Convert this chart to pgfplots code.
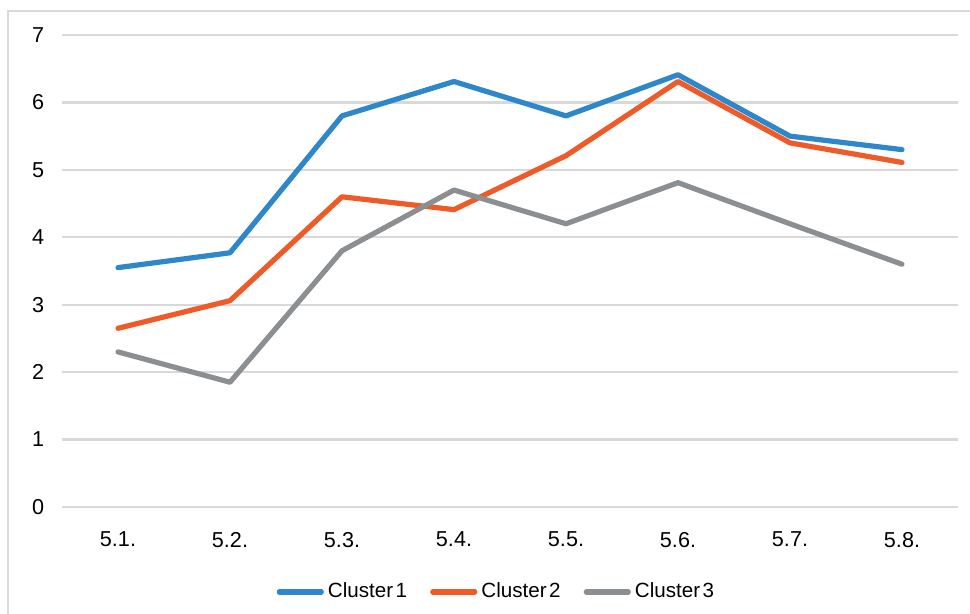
\documentclass[border=0pt]{standalone}
\usepackage{pgfplots}
\pgfplotsset{compat=1.18}
\usepackage{fontspec}
\setmainfont{Liberation Sans}

\definecolor{cOne}{HTML}{2E86CB}
\definecolor{cTwo}{HTML}{EE5A28}
\definecolor{cThree}{HTML}{8C8F92}
\definecolor{gridc}{HTML}{D9D9D9}

\newcommand{\lbl}{\fontsize{10.8}{13}\selectfont}
\newcommand{\leg}{\fontsize{10.3}{12}\selectfont}

\begin{document}
\begin{tikzpicture}[x=0.5pt,y=0.5pt]
% page: 970 x 614 units, origin bottom-left
\useasboundingbox (0,0) rectangle (970,614);
% chart frame (left and top edges)
\draw[gridc, line width=1pt] (8,0) -- (8,603) -- (975,603);
\begin{axis}[
  at={(31pt,53.5pt)}, anchor=south west,
  scale only axis, width=448pt, height=236pt,
  xmin=-0.5, xmax=7.5, ymin=0, ymax=7,
  xtick={0,...,7},
  xticklabels={5.1.,5.2.,5.3.,5.4.,5.5.,5.6.,5.7.,5.8.},
  ytick={0,...,7},
  axis line style={draw=none},
  major tick length=0pt,
  ymajorgrids, grid style={gridc, line width=1.1pt},
  tick label style={font=\lbl, text=black},
  /pgf/number format/assume math mode=true,
  yticklabel style={xshift=-5.4pt},
  xticklabel style={yshift=-9pt},
  legend style={draw=none, fill=none, at={(axis description cs:0.486,-0.180)}, anchor=center,
    font=\leg, legend columns=3,
    /tikz/every even column/.append style={column sep=9.5pt},
    legend cell align=left, inner sep=0pt},
  legend image code/.code={\draw[#1, line cap=round] (0pt,0pt) -- (21pt,0pt);},
  every axis plot/.append style={line width=2.6pt, line join=round, line cap=round},
  clip=false,
]
\addplot[cOne] coordinates {(0,3.55) (1,3.77) (2,5.80) (3,6.31) (4,5.80) (5,6.41) (6,5.50) (7,5.30)};
\addlegendentry{Cluster\hspace{1.3pt}1}
\addplot[cTwo] coordinates {(0,2.65) (1,3.06) (2,4.60) (3,4.41) (4,5.21) (5,6.31) (6,5.40) (7,5.11)};
\addlegendentry{Cluster\hspace{1.3pt}2}
\addplot[cThree] coordinates {(0,2.30) (1,1.85) (2,3.80) (3,4.70) (4,4.20) (5,4.81) (6,4.20) (7,3.60)};
\addlegendentry{Cluster\hspace{1.3pt}3}
\end{axis}
\end{tikzpicture}
\end{document}
